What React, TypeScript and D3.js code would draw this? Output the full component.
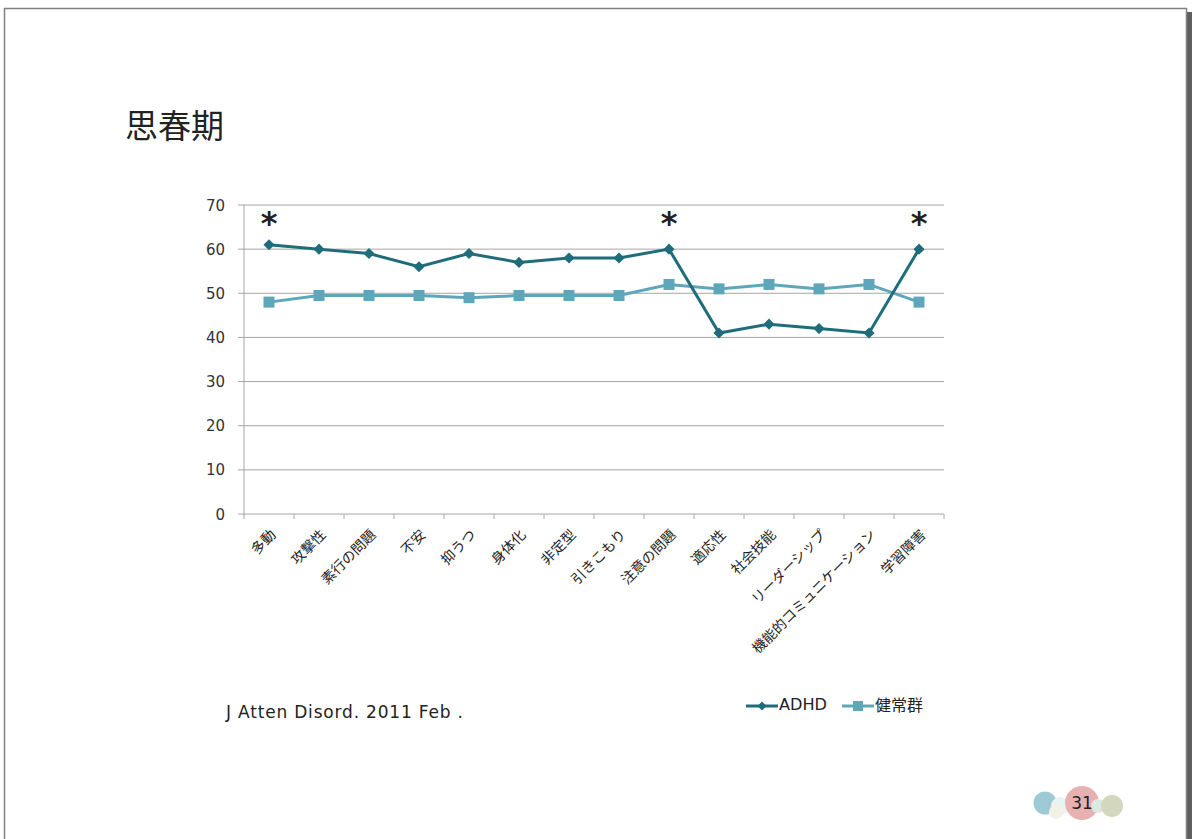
import React from "react";
import * as d3 from "d3";

const categories = ["多動", "攻撃性", "素行の問題", "不安", "抑うつ", "身体化", "非定型", "引きこもり", "注意の問題", "適応性", "社会技能", "リーダーシップ", "機能的コミュニケーション", "学習障害"];
const adhd = [61, 60, 59, 56, 59, 57, 58, 58, 60, 41, 43, 42, 41, 60];
const healthy = [48, 49.5, 49.5, 49.5, 49, 49.5, 49.5, 49.5, 52, 51, 52, 51, 52, 48];
const yTicks = [0, 10, 20, 30, 40, 50, 60, 70];
const starred = ["多動", "注意の問題", "学習障害"];
const seriesNames = ["ADHD", "健常群"];

const C_ADHD = "#1f6d7b";
const C_HEALTHY = "#5ea6ba";
const JP = "'Noto Sans CJK JP', 'DejaVu Sans', sans-serif";
const VER = "'DejaVu Sans', 'Noto Sans CJK JP', sans-serif";

export default function App() {
  const W = 1192, H = 839;
  const left = 244, right = 944, top = 205, bottom = 514;
  const x = d3.scaleBand<string>().domain(categories).range([left, right]);
  const y = d3.scaleLinear().domain([0, 70]).range([bottom, top]);
  const cx = (c: string) => (x(c) as number) + x.bandwidth() / 2;
  const line = d3.line<number>().x((_, i) => cx(categories[i])).y((d) => y(d));
  const tickXs = d3.range(categories.length + 1).map((i) => left + i * x.bandwidth());
  const diamond = d3.symbol(d3.symbolSquare, 62)() || "";
  const legendDiamond = d3.symbol(d3.symbolSquare, 40)() || "";

  const circles = [
    { cx: 1045, cy: 803, r: 11.5, fill: "#9ecad6" },
    { cx: 1060, cy: 806, r: 9, fill: "#e9f3f3" },
    { cx: 1056, cy: 812, r: 7, fill: "#f3f1e6" },
    { cx: 1082, cy: 803, r: 17, fill: "#e8b1b1" },
    { cx: 1098, cy: 806, r: 7, fill: "#dde9e0" },
    { cx: 1112, cy: 806, r: 11, fill: "#d3d7bd" },
  ];

  return (
    <svg width={W} height={H} style={{ position: "absolute", left: 0, top: 0, display: "block" }}>
      <rect x={0} y={0} width={W} height={H} fill="#ffffff" />
      {/* slide frame */}
      <rect x={1187} y={12} width={5} height={H} fill="#5f5f5f" />
      <rect x={4.5} y={8.5} width={1182} height={H} fill="#ffffff" stroke="#808080" strokeWidth={1.5} />

      <text x={125} y={138} fontFamily={JP} fontSize={33} fill="#222">思春期</text>

      {/* gridlines */}
      {yTicks.map((t) => (
        <g key={t}>
          <line x1={238} x2={right} y1={y(t)} y2={y(t)} stroke="#a6a6a6" strokeWidth={1} />
          <text x={225} y={y(t) + 5.5} textAnchor="end" fontFamily={VER} fontSize={15} fill="#333">{t}</text>
        </g>
      ))}
      <line x1={left} x2={left} y1={top} y2={bottom} stroke="#a6a6a6" strokeWidth={1} />
      {tickXs.map((tx, i) => (
        <line key={i} x1={tx} x2={tx} y1={bottom} y2={bottom + 5} stroke="#a6a6a6" strokeWidth={1} />
      ))}

      {categories.map((c) => (
        <text key={c} transform={`translate(${cx(c) + 5},${bottom + 19}) rotate(-45)`} textAnchor="end" fontFamily={JP} fontSize={14} fill="#222" dominantBaseline="middle">{c}</text>
      ))}

      <path d={line(healthy) || ""} fill="none" stroke={C_HEALTHY} strokeWidth={3} />
      {healthy.map((v, i) => (
        <rect key={i} x={cx(categories[i]) - 5.5} y={y(v) - 5.5} width={11} height={11} fill={C_HEALTHY} />
      ))}
      <path d={line(adhd) || ""} fill="none" stroke={C_ADHD} strokeWidth={3} />
      {adhd.map((v, i) => (
        <path key={i} d={diamond} transform={`translate(${cx(categories[i])},${y(v)}) rotate(45)`} fill={C_ADHD} />
      ))}

      {starred.map((c) => (
        <text key={c} x={cx(c)} y={234} textAnchor="middle" fontFamily={VER} fontSize={32} fontWeight="bold" fill="#222">*</text>
      ))}

      <text x={226} y={718} fontFamily={VER} fontSize={17} textLength={237} lengthAdjust="spacing" fill="#222">J Atten Disord. 2011 Feb .</text>

      {/* legend */}
      <line x1={746} x2={778} y1={706} y2={706} stroke={C_ADHD} strokeWidth={3} />
      <path d={legendDiamond} transform="translate(762,706) rotate(45)" fill={C_ADHD} />
      <text x={779} y={710} fontFamily={VER} fontSize={15} textLength={48} lengthAdjust="spacingAndGlyphs" fill="#222">{seriesNames[0]}</text>
      <line x1={842} x2={874} y1={706} y2={706} stroke={C_HEALTHY} strokeWidth={3} />
      <rect x={853} y={701} width={10} height={10} fill={C_HEALTHY} />
      <text x={875} y={711} fontFamily={JP} fontSize={16} fill="#222">{seriesNames[1]}</text>

      {circles.map((c, i) => (
        <circle key={i} cx={c.cx} cy={c.cy} r={c.r} fill={c.fill} />
      ))}
      <text x={1082} y={809} textAnchor="middle" fontFamily={VER} fontSize={17} fill="#222">31</text>
    </svg>
  );
}
